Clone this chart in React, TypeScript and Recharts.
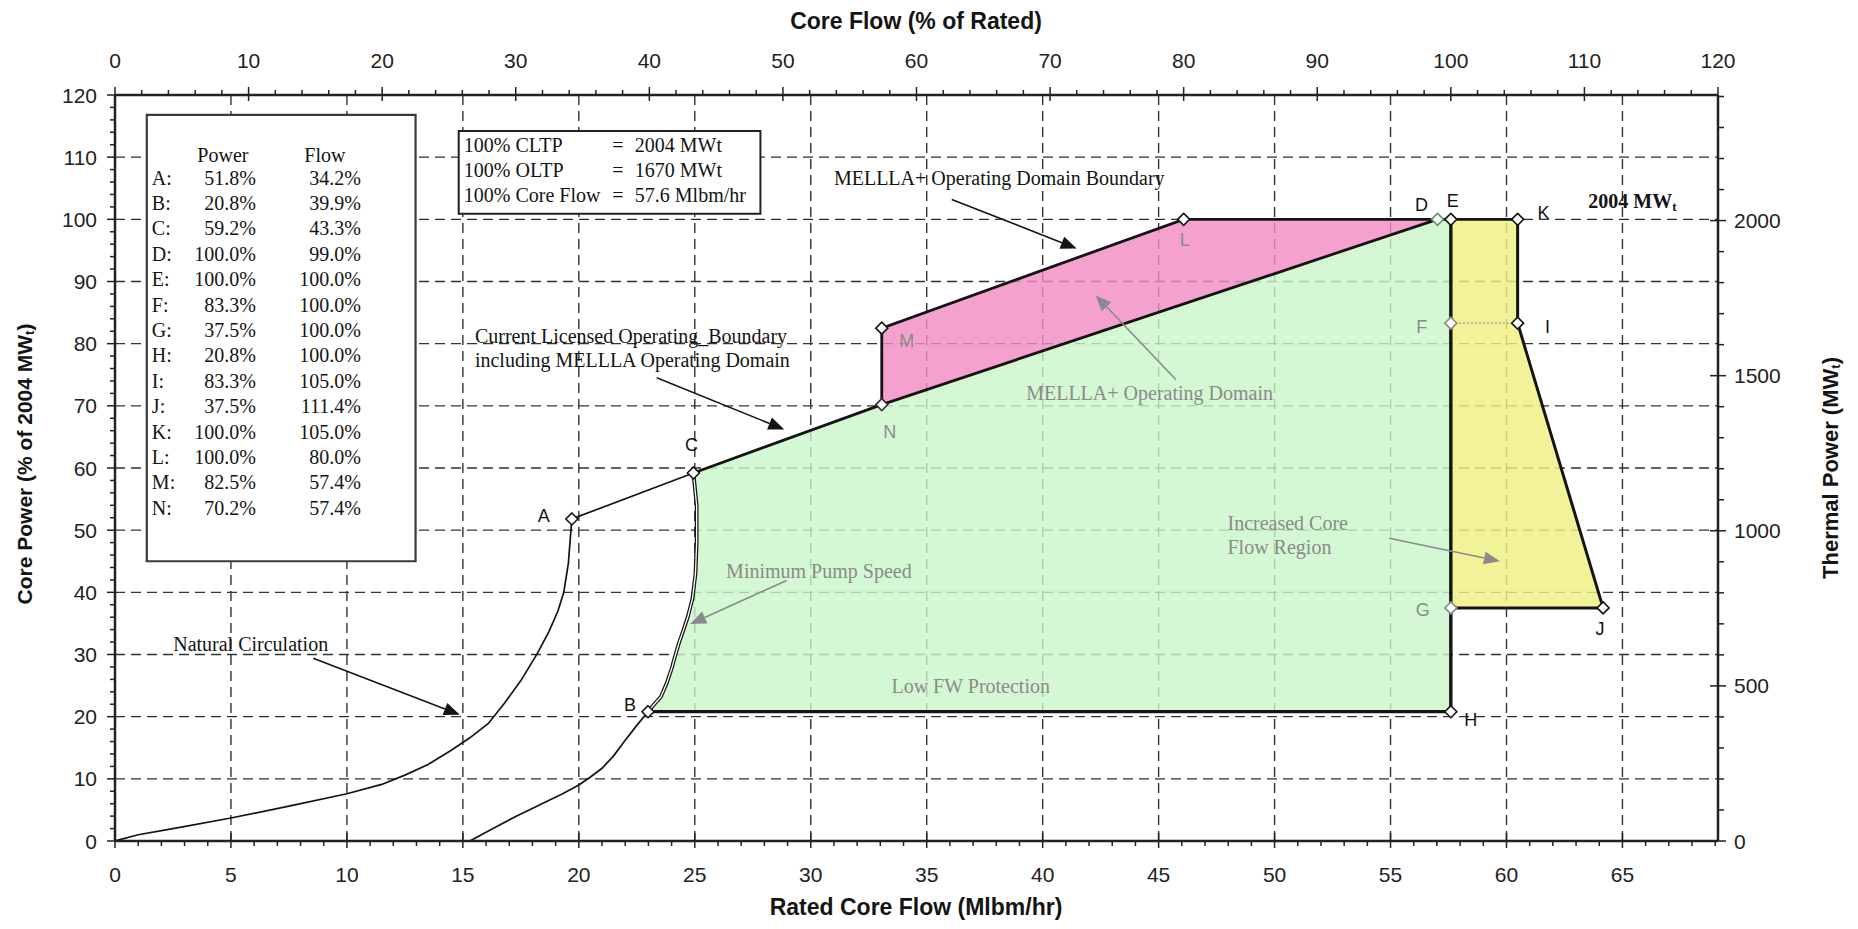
import React from 'react';
import {
  ComposedChart,
  XAxis,
  YAxis,
  CartesianGrid,
  Line,
  Scatter,
  ReferenceLine,
  ReferenceDot,
  ReferenceArea,
} from 'recharts';

const ARIAL = "Arial, 'Liberation Sans', Helvetica, sans-serif";
const TIMES = "'Times New Roman', 'Liberation Serif', Times, serif";
const GRAY = '#8a8a8a';
const INK = '#141414';

// ---- reference constants ----
const RATED_FLOW = 57.6; // Mlbm/hr at 100% core flow
const CLTP_MW = 2004;
const FLOW_MAX_PCT = 120;
const POWER_MAX_PCT = 120;

// ---- state points (table in the chart) ----
const pointNames = ['A', 'B', 'C', 'D', 'E', 'F', 'G', 'H', 'I', 'J', 'K', 'L', 'M', 'N'];
const pointPower = [51.8, 20.8, 59.2, 100.0, 100.0, 83.3, 37.5, 20.8, 83.3, 37.5, 100.0, 100.0, 82.5, 70.2];
const pointFlow = [34.2, 39.9, 43.3, 99.0, 100.0, 100.0, 100.0, 100.0, 105.0, 111.4, 105.0, 80.0, 57.4, 57.4];

// ---- curves (Mlbm/hr, % power) ----
const natCircFlow = [0, 1, 2.5, 5, 7.5, 10, 11.5, 12.5, 13.5, 14.5, 15.3, 16.1, 16.8, 17.5, 18.2, 18.7, 19.1, 19.35, 19.55, 19.65];
const natCircPower = [0, 1, 2, 3.7, 5.6, 7.6, 9.1, 10.6, 12.3, 14.6, 16.6, 18.9, 22.2, 25.8, 30.1, 33.6, 37, 40, 44.7, 49.5];
const minPumpLowFlow = [15.3, 16.3, 17.3, 18.3, 19.3, 20.0, 20.5, 21.0, 21.5, 22.0, 22.5];
const minPumpLowPower = [0, 2.0, 4.0, 5.8, 7.6, 9.0, 10.3, 11.7, 13.7, 16.2, 18.6];
const minPumpHighFlow = [23.25, 23.54, 23.8, 24.0, 24.17, 24.33, 24.52, 24.71, 24.9, 25.03, 25.08, 25.08];
const minPumpHighPower = [22.0, 23.2, 25.5, 27.7, 30, 32, 34, 36.2, 39, 43, 48, 54];

// ---- info box ----
const boxLabels = ['100% CLTP', '100% OLTP', '100% Core Flow'];
const boxValues = ['2004 MWt', '1670 MWt', '57.6 Mlbm/hr'];

// ---- axis ticks ----
const bottomMajor = [0, 5, 10, 15, 20, 25, 30, 35, 40, 45, 50, 55, 60, 65];
const topMajor = [0, 10, 20, 30, 40, 50, 60, 70, 80, 90, 100, 110, 120];
const leftMajor = [0, 10, 20, 30, 40, 50, 60, 70, 80, 90, 100, 110, 120];
const rightMajor = [0, 500, 1000, 1500, 2000];
const gridX = [5, 10, 15, 20, 25, 30, 35, 40, 45, 50, 55, 60, 65];
const gridY = [10, 20, 30, 40, 50, 60, 70, 80, 90, 100, 110];

const stepTicks = (a: number, b: number, s: number) => {
  const r: number[] = [];
  for (let v = a; v <= b + 1e-9; v += s) r.push(Math.round(v * 1000) / 1000);
  return r;
};
const bottomTicks = stepTicks(0, 69, 1);
const topTicks = stepTicks(0, 120, 2);
const leftTicks = stepTicks(0, 120, 2);
const rightTicks = stepTicks(0, 2400, 100);

const FLOW_DOMAIN_MAX = (FLOW_MAX_PCT * RATED_FLOW) / 100;
const MW_DOMAIN_MAX = (POWER_MAX_PCT * CLTP_MW) / 100;

// ---- derived series ----
const P: Record<string, { x: number; y: number; name: string }> = {};
pointNames.forEach((n, i) => {
  P[n] = { x: (pointFlow[i] * RATED_FLOW) / 100, y: pointPower[i], name: n };
});
const pts = (xs: number[], ys: number[]) => xs.map((x, i) => ({ x, y: ys[i] }));

const natCircSeries = [...pts(natCircFlow, natCircPower), P.A, P.C];
const minPumpLow = [...pts(minPumpLowFlow, minPumpLowPower), P.B];
const minPumpHigh = [P.B, ...pts(minPumpHighFlow, minPumpHighPower), P.C];
const cltpSeries = [P.C, P.N, P.D];
const mellaSeries = [P.N, P.M, P.L, P.K];
const ehSeries = [P.E, P.H];
const bhSeries = [P.B, P.H];
const kijgSeries = [P.K, P.I, P.J, P.G];
const fiSeries = [P.F, P.I];

const greenPoly = [P.B, ...pts(minPumpHighFlow, minPumpHighPower), P.C, P.N, P.D, P.E, P.H];
const pinkPoly = [P.M, P.L, P.D, P.N];
const yellowPoly = [P.E, P.K, P.I, P.J, P.G];
const markers = pointNames.map((n) => P[n]);
// corners of the secondary (% flow, MWt) axes so that they get a domain
const secondaryCorners = [
  { x: 0, y: 0 },
  { x: FLOW_MAX_PCT, y: MW_DOMAIN_MAX },
];

// ---- styles ----
const markerStyle: Record<string, { dx: number; dy: number; label: string; stroke: string }> = {
  A: { dx: -28, dy: -3, label: INK, stroke: INK },
  B: { dx: -18, dy: -7, label: INK, stroke: INK },
  C: { dx: -2, dy: -28, label: INK, stroke: INK },
  D: { dx: -16, dy: -14, label: INK, stroke: '#6f906f' },
  E: { dx: 2, dy: -18, label: INK, stroke: INK },
  F: { dx: -29, dy: 4, label: GRAY, stroke: GRAY },
  G: { dx: -28, dy: 2, label: GRAY, stroke: GRAY },
  H: { dx: 20, dy: 8, label: INK, stroke: INK },
  I: { dx: 30, dy: 4, label: INK, stroke: INK },
  J: { dx: -3, dy: 21, label: INK, stroke: INK },
  K: { dx: 26, dy: -6, label: INK, stroke: INK },
  L: { dx: 1, dy: 21, label: GRAY, stroke: INK },
  M: { dx: 25, dy: 13, label: GRAY, stroke: INK },
  N: { dx: 8, dy: 27, label: GRAY, stroke: '#333' },
};

const notes = [
  { lines: ['MELLLA+ Operating Domain Boundary'], x: 31.0, y: 106.7, color: INK },
  { lines: ['Current Licensed Operating_Boundary', 'including MELLLA Operating Domain'], x: 15.52, y: 81.2, color: INK },
  { lines: ['MELLLA+ Operating Domain'], x: 39.29, y: 72.1, color: GRAY },
  { lines: ['Minimum Pump Speed'], x: 26.35, y: 43.5, color: GRAY },
  { lines: ['Increased Core', 'Flow Region'], x: 47.97, y: 51.1, color: GRAY },
  { lines: ['Low FW Protection'], x: 33.48, y: 24.9, color: GRAY },
  { lines: ['Natural Circulation'], x: 2.51, y: 31.7, color: INK },
];

const arrows = [
  { from: [8.55, 29.4], to: [14.87, 20.3], color: INK },
  { from: [23.36, 74.5], to: [28.86, 66.2], color: INK },
  { from: [36.08, 103.2], to: [41.47, 95.3], color: INK },
  { from: [45.75, 74.2], to: [42.28, 87.8], color: GRAY },
  { from: [28.96, 41.9], to: [24.8, 34.9], color: GRAY },
  { from: [54.94, 48.7], to: [59.72, 45.0], color: GRAY },
];

const TICK = '#222';
const tickText = { fontFamily: ARIAL, fontSize: 21, fill: '#222' } as const;

const BottomTick = (p: any) => {
  const { x, y, payload } = p;
  const v = payload.value;
  const major = bottomMajor.includes(v);
  return (
    <g>
      <line x1={x} x2={x} y1={major ? y - 8 : y} y2={major ? y + 7 : y + 5} stroke={TICK} strokeWidth={1.5} />
      {major && (
        <text x={x} y={y + 33} textAnchor="middle" dominantBaseline="central" {...tickText}>
          {v}
        </text>
      )}
    </g>
  );
};
const TopTick = (p: any) => {
  const { x, y, payload } = p;
  const v = payload.value;
  const major = topMajor.includes(v);
  return (
    <g>
      <line x1={x} x2={x} y1={major ? y - 8 : y - 5} y2={major ? y + 6 : y} stroke={TICK} strokeWidth={1.5} />
      {major && (
        <text x={x} y={y - 35} textAnchor="middle" dominantBaseline="central" {...tickText}>
          {v}
        </text>
      )}
    </g>
  );
};
const LeftTick = (p: any) => {
  const { x, y, payload } = p;
  const v = payload.value;
  const major = leftMajor.includes(v);
  return (
    <g>
      <line x1={major ? x - 8 : x - 5} x2={x} y1={y} y2={y} stroke={TICK} strokeWidth={1.5} />
      {major && (
        <text x={x - 18} y={y} textAnchor="end" dominantBaseline="central" {...tickText}>
          {v}
        </text>
      )}
    </g>
  );
};
const RightTick = (p: any) => {
  const { x, y, payload } = p;
  const v = payload.value;
  const major = rightMajor.includes(v);
  return (
    <g>
      <line x1={major ? x - 8 : x} x2={major ? x + 8 : x + 6} y1={y} y2={y} stroke={TICK} strokeWidth={1.5} />
      {major && (
        <text x={x + 16} y={y} textAnchor="start" dominantBaseline="central" {...tickText}>
          {v}
        </text>
      )}
    </g>
  );
};

const polygonLine = (fill: string, opacity: number) => (props: any) => {
  const list = props.points || [];
  if (!list.length) return <g />;
  const d = list.map((q: any, i: number) => `${i ? 'L' : 'M'}${q.x},${q.y}`).join(' ') + ' Z';
  return <path d={d} fill={fill} fillOpacity={opacity} stroke="none" />;
};
const emptyShape = () => <g />;

const DiamondShape = (props: any) => {
  const { cx, cy, payload } = props;
  const st = markerStyle[payload.name];
  const s = 6;
  return (
    <g>
      <path
        d={`M${cx},${cy - s} L${cx + s},${cy} L${cx},${cy + s} L${cx - s},${cy} Z`}
        fill="#fff"
        stroke={st.stroke}
        strokeWidth={1.6}
      />
      <text
        x={cx + st.dx}
        y={cy + st.dy}
        textAnchor="middle"
        dominantBaseline="central"
        fontFamily={ARIAL}
        fontSize={18}
        fill={st.label}
      >
        {payload.name}
      </text>
    </g>
  );
};

const arrowShape = (color: string) => (p: any) => {
  const { x1, y1, x2, y2 } = p;
  const ang = Math.atan2(y2 - y1, x2 - x1);
  const L = 16;
  const Wd = 6.5;
  const bx = x2 - L * Math.cos(ang);
  const by = y2 - L * Math.sin(ang);
  const px = -Math.sin(ang) * Wd;
  const py = Math.cos(ang) * Wd;
  return (
    <g>
      <line x1={x1} y1={y1} x2={bx} y2={by} stroke={color} strokeWidth={1.6} />
      <path d={`M${x2},${y2} L${bx + px},${by + py} L${bx - px},${by - py} Z`} fill={color} />
    </g>
  );
};

const noteShape = (lines: string[], color: string) => (p: any) => (
  <text x={p.cx} y={p.cy} fontFamily={TIMES} fontSize={20} fill={color} dominantBaseline="central">
    {lines.map((t, i) => (
      <tspan key={i} x={p.cx} y={p.cy + i * 23.6}>
        {t}
      </tspan>
    ))}
  </text>
);

const tableShape = (p: any) => {
  const { cx, cy } = p;
  const common = { fontFamily: TIMES, fontSize: 20, fill: INK, dominantBaseline: 'central' as const };
  return (
    <g>
      <text x={cx + 71} y={cy} textAnchor="middle" {...common}>Power</text>
      <text x={cx + 173} y={cy} textAnchor="middle" {...common}>Flow</text>
      {pointNames.map((n, i) => {
        const yy = cy + 23 + i * 25.4;
        return (
          <g key={n}>
            <text x={cx} y={yy} textAnchor="start" {...common}>{n}:</text>
            <text x={cx + 104} y={yy} textAnchor="end" {...common}>{pointPower[i].toFixed(1)}%</text>
            <text x={cx + 209} y={yy} textAnchor="end" {...common}>{pointFlow[i].toFixed(1)}%</text>
          </g>
        );
      })}
    </g>
  );
};

const infoShape = (p: any) => {
  const { cx, cy } = p;
  const common = { fontFamily: TIMES, fontSize: 20, fill: INK, dominantBaseline: 'central' as const };
  return (
    <g>
      {boxLabels.map((t, i) => (
        <g key={t}>
          <text x={cx} y={cy + i * 25} textAnchor="start" {...common}>{t}</text>
          <text x={cx + 154} y={cy + i * 25} textAnchor="middle" {...common}>=</text>
          <text x={cx + 171} y={cy + i * 25} textAnchor="start" {...common}>{boxValues[i]}</text>
        </g>
      ))}
    </g>
  );
};

const mwShape = (p: any) => (
  <text x={p.cx} y={p.cy} fontFamily={TIMES} fontSize={20} fontWeight="bold" fill={INK} dominantBaseline="central">
    {`${CLTP_MW} MW`}
    <tspan dy={5} fontSize={13}>t</tspan>
  </text>
);

const W = 1842;
const H = 913;

const titleBase: React.CSSProperties = {
  position: 'absolute',
  whiteSpace: 'nowrap',
  fontFamily: ARIAL,
  fontWeight: 'bold',
  color: INK,
};
const vertTitle: React.CSSProperties = {
  ...titleBase,
  writingMode: 'vertical-rl',
  transform: 'translate(-50%,-50%) rotate(180deg)',
};

export default function App() {
  const ax = { xAxisId: 'b', yAxisId: 'l' } as const;
  return (
    <div style={{ position: 'relative', width: W, height: H, background: '#fff' }}>
      <ComposedChart width={W} height={H} margin={{ top: 0, right: 0, bottom: 0, left: 0 }}>
        <CartesianGrid
          xAxisId="b"
          yAxisId="l"
          verticalValues={gridX}
          horizontalValues={gridY}
          stroke="#333"
          strokeWidth={1.4}
          strokeDasharray="10 6"
        />
        <XAxis
          xAxisId="b"
          dataKey="x"
          type="number"
          domain={[0, FLOW_DOMAIN_MAX]}
          ticks={bottomTicks}
          interval={0}
          tickSize={0}
          tickMargin={0}
          tickLine={false}
          tick={(p: any) => <BottomTick {...p} />}
          axisLine={{ stroke: '#222', strokeWidth: 2.5 }}
          height={80}
          allowDataOverflow
        />
        <XAxis
          xAxisId="t"
          dataKey="x"
          orientation="top"
          type="number"
          domain={[0, FLOW_MAX_PCT]}
          ticks={topTicks}
          interval={0}
          tickSize={0}
          tickMargin={0}
          tickLine={false}
          tick={(p: any) => <TopTick {...p} />}
          axisLine={{ stroke: '#222', strokeWidth: 2.5 }}
          height={87}
          allowDataOverflow
        />
        <YAxis
          yAxisId="l"
          type="number"
          domain={[0, POWER_MAX_PCT]}
          ticks={leftTicks}
          interval={0}
          tickSize={0}
          tickMargin={0}
          tickLine={false}
          tick={(p: any) => <LeftTick {...p} />}
          axisLine={{ stroke: '#222', strokeWidth: 2.5 }}
          width={107}
          allowDataOverflow
        />
        <YAxis
          yAxisId="r"
          orientation="right"
          type="number"
          domain={[0, MW_DOMAIN_MAX]}
          ticks={rightTicks}
          interval={0}
          tickSize={0}
          tickMargin={0}
          tickLine={false}
          tick={(p: any) => <RightTick {...p} />}
          axisLine={{ stroke: '#222', strokeWidth: 2.5 }}
          width={132}
          allowDataOverflow
        />

        {/* invisible series binding the secondary axes */}
        <Scatter xAxisId="t" yAxisId="r" data={secondaryCorners} dataKey="y" shape={emptyShape} isAnimationActive={false} />

        {/* shaded regions */}
        <Scatter {...ax} data={greenPoly} dataKey="y" line={polygonLine('#c9f5c9', 0.8)} lineType="joint" shape={emptyShape} isAnimationActive={false} zIndex={50} />
        <Scatter {...ax} data={pinkPoly} dataKey="y" line={polygonLine('#f28cc3', 0.82)} lineType="joint" shape={emptyShape} isAnimationActive={false} zIndex={50} />
        <Scatter {...ax} data={yellowPoly} dataKey="y" line={polygonLine('#efef83', 0.82)} lineType="joint" shape={emptyShape} isAnimationActive={false} zIndex={50} />

        {/* boundary lines */}
        <Line {...ax} data={natCircSeries} dataKey="y" type="linear" stroke={INK} strokeWidth={1.7} dot={false} activeDot={false} isAnimationActive={false} />
        <Line {...ax} data={minPumpLow} dataKey="y" type="linear" stroke={INK} strokeWidth={1.7} dot={false} activeDot={false} isAnimationActive={false} />
        <Line {...ax} data={minPumpHigh} dataKey="y" type="linear" stroke={INK} strokeWidth={3.8} dot={false} activeDot={false} isAnimationActive={false} />
        <Line {...ax} data={minPumpHigh} dataKey="y" type="linear" stroke="#ffffff" strokeWidth={1.3} dot={false} activeDot={false} isAnimationActive={false} />
        <Line {...ax} data={cltpSeries} dataKey="y" type="linear" stroke={INK} strokeWidth={2.8} dot={false} activeDot={false} isAnimationActive={false} />
        <Line {...ax} data={mellaSeries} dataKey="y" type="linear" stroke={INK} strokeWidth={2.8} dot={false} activeDot={false} isAnimationActive={false} />
        <Line {...ax} data={ehSeries} dataKey="y" type="linear" stroke={INK} strokeWidth={3.4} dot={false} activeDot={false} isAnimationActive={false} />
        <Line {...ax} data={bhSeries} dataKey="y" type="linear" stroke={INK} strokeWidth={3.2} dot={false} activeDot={false} isAnimationActive={false} />
        <Line {...ax} data={kijgSeries} dataKey="y" type="linear" stroke={INK} strokeWidth={3.0} dot={false} activeDot={false} isAnimationActive={false} />
        <Line {...ax} data={fiSeries} dataKey="y" type="linear" stroke="#9a9a9a" strokeWidth={1.2} strokeDasharray="2 2" dot={false} activeDot={false} isAnimationActive={false} />

        {/* state points */}
        <Scatter {...ax} data={markers} dataKey="y" shape={DiamondShape} isAnimationActive={false} zIndex={600} />

        {/* boxes */}
        <ReferenceArea {...ax} x1={1.37} x2={12.96} y1={45} y2={116.8} fill="#fff" fillOpacity={1} stroke="#3a3a3a" strokeWidth={2.2} zIndex={650} />
        <ReferenceArea {...ax} x1={14.82} x2={27.83} y1={100.9} y2={114.2} fill="#fff" fillOpacity={1} stroke="#222" strokeWidth={2} zIndex={650} />

        {/* arrows */}
        {arrows.map((a, i) => (
          <ReferenceLine
            key={`ar${i}`}
            {...ax}
            segment={[
              { x: a.from[0], y: a.from[1] },
              { x: a.to[0], y: a.to[1] },
            ]}
            shape={arrowShape(a.color)}
            zIndex={700}
          />
        ))}

        {/* texts */}
        {notes.map((n, i) => (
          <ReferenceDot key={`nt${i}`} {...ax} x={n.x} y={n.y} r={0} shape={noteShape(n.lines, n.color)} zIndex={700} />
        ))}
        <ReferenceDot {...ax} x={1.59} y={110.4} r={0} shape={tableShape} zIndex={700} />
        <ReferenceDot {...ax} x={15.04} y={112.0} r={0} shape={infoShape} zIndex={700} />
        <ReferenceDot {...ax} x={63.53} y={102.9} r={0} shape={mwShape} zIndex={700} />
      </ComposedChart>

      {/* axis titles */}
      <div style={{ ...titleBase, fontSize: 23, lineHeight: '26px', left: 908, top: 13, transform: 'translate(-50%,-50%)' }}>
        Core Flow (% of Rated)
      </div>
      <div style={{ ...titleBase, fontSize: 23, lineHeight: '24px', left: 908, top: 899, transform: 'translate(-50%,-50%)' }}>
        Rated Core Flow (Mlbm/hr)
      </div>
      <div style={{ ...vertTitle, fontSize: 21, lineHeight: '26px', left: 17, top: 456 }}>
        Core Power (% of 2004 MW<sub style={{ fontSize: 13, lineHeight: 0 }}>t</sub>)
      </div>
      <div style={{ ...vertTitle, fontSize: 22, lineHeight: '26px', left: 1823, top: 460 }}>
        Thermal Power (MW<sub style={{ fontSize: 13, lineHeight: 0 }}>t</sub>)
      </div>
    </div>
  );
}
